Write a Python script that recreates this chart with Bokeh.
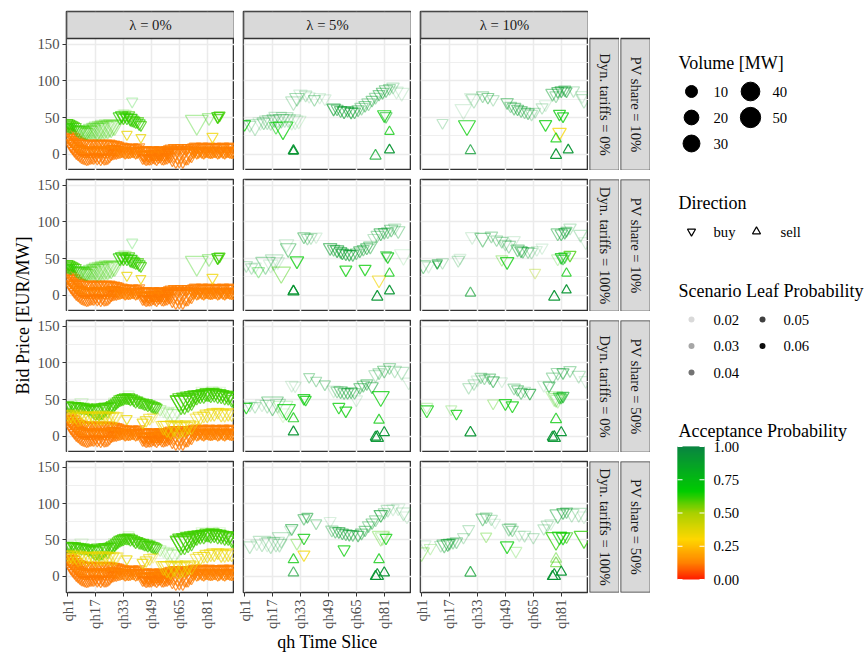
import numpy as np
from bokeh.plotting import figure
from bokeh.layouts import row, column
from bokeh.models import Range1d, Grid, FixedTicker, LinearAxis, ColumnDataSource
from bokeh.transform import linear_cmap
from bokeh.core.properties import value
from bokeh.embed import file_html
from bokeh.resources import INLINE

FONT = "Liberation Serif"

# ---------------- labels / breaks ----------------
lambda_labels = ["λ = 0%", "λ = 5%", "λ = 10%"]
dyn_labels = ["Dyn. tariffs = 0%", "Dyn. tariffs = 100%", "Dyn. tariffs = 0%", "Dyn. tariffs = 100%"]
pv_labels = ["PV share = 10%", "PV share = 10%", "PV share = 50%", "PV share = 50%"]
qh_ticks = [1, 17, 33, 49, 65, 81]
qh_tick_labels = ["qh1", "qh17", "qh33", "qh49", "qh65", "qh81"]
price_ticks = [0, 50, 100, 150]
price_minor = [25, 75, 125]
size_breaks = [10, 20, 30, 40, 50]
prob_breaks = [0.02, 0.03, 0.04, 0.05, 0.06]
acc_breaks = [0.0, 0.25, 0.5, 0.75, 1.0]
acc_break_labels = ["0.00", "0.25", "0.50", "0.75", "1.00"]
direction_labels = ["buy", "sell"]

# ---------------- data: (qh, price, volume MW, leaf prob, acceptance prob[, dir]) ----------------
# dense low-acceptance buy band in the λ = 0% column
ORANGE_BAND = [
    (1,31,2,.05,.12),(1,24,3,.055,.13),
    (2,29,2,.05,.12),(2,22,3,.055,.12),(2,15,1,.05,.11),
    (3,27,2,.05,.12),(3,19,3,.055,.13),(3,11,2,.05,.11),
    (4,25,1,.05,.12),(4,16,3,.055,.12),(4,8,2,.05,.11),
    (5,23,2,.05,.12),(5,14,3,.055,.13),(5,5,2,.05,.11),
    (6,20,2,.05,.12),(6,11,3,.055,.12),(6,2,2,.05,.11),
    (7,18,2,.05,.12),(7,9,3,.055,.13),(7,0,2,.05,.11),
    (8,17,2,.05,.12),(8,7,3,.055,.12),(8,-2,2,.05,.11),
    (9,16,2,.05,.12),(9,6,3,.055,.13),(9,-4,2,.05,.11),
    (10,15,2,.05,.12),(10,5,3,.055,.12),(10,-5,2,.05,.11),
    (11,15,1,.05,.12),(11,4,3,.055,.13),(11,-5,3,.05,.11),
    (12,14,2,.05,.12),(12,4,2,.055,.12),(12,-6,3,.05,.11),
    (13,15,2,.05,.12),(13,5,3,.055,.13),(13,-6,2,.05,.11),
    (14,14,2,.05,.12),(14,4,3,.055,.12),(14,-5,2,.05,.11),
    (15,15,2,.05,.12),(15,5,2,.055,.13),(15,-4,3,.05,.11),
    (16,14,1,.05,.12),(16,4,3,.055,.12),(16,-5,2,.05,.11),
    (17,15,2,.05,.12),(17,6,3,.055,.13),(17,-3,2,.05,.11),
    (18,14,2,.05,.12),(18,5,3,.055,.12),(18,-5,3,.05,.11),
    (19,15,2,.05,.12),(19,4,2,.055,.13),(19,-4,2,.05,.11),
    (20,14,2,.05,.12),(20,5,3,.055,.12),(20,-6,3,.05,.11),
    (21,15,1,.05,.12),(21,6,3,.055,.13),(21,-4,2,.05,.11),
    (22,14,2,.05,.12),(22,4,3,.055,.12),(22,-6,2,.05,.11),
    (23,15,2,.05,.12),(23,5,2,.055,.13),(23,-5,3,.05,.11),
    (24,14,2,.05,.12),(24,4,3,.055,.12),(24,-5,2,.05,.11),
    (25,15,2,.05,.12),(25,6,3,.055,.13),(25,-3,2,.05,.11),
    (26,14,2,.05,.12),(26,7,2,.055,.12),(26,0,2,.05,.11),
    (27,13,2,.05,.12),(27,6,3,.055,.13),(27,1,2,.05,.11),
    (28,14,1,.05,.12),(28,7,3,.055,.12),(28,2,2,.05,.11),
    (29,13,2,.05,.12),(29,6,3,.055,.13),(29,2,2,.05,.11),
    (30,12,2,.05,.12),(30,6,2,.055,.12),(30,3,2,.05,.11),
    (31,10,2,.05,.12),(31,4,3,.055,.13),
    (32,11,2,.05,.12),(32,5,3,.055,.12),
    (33,10,2,.05,.12),(33,4,2,.055,.13),
    (34,9,2,.05,.12),(34,3,3,.055,.12),
    (35,10,1,.05,.12),(35,4,3,.055,.13),
    (36,8,2,.05,.12),(36,3,2,.055,.12),
    (37,9,2,.05,.12),(37,4,3,.055,.13),
    (38,10,2,.05,.12),(38,5,3,.055,.12),
    (39,9,2,.05,.12),(39,4,2,.055,.13),
    (40,8,2,.05,.12),(40,3,3,.055,.12),
    (41,9,1,.05,.12),(41,4,3,.055,.13),
    (42,10,2,.05,.12),(42,5,2,.055,.12),
    (44,6,2,.05,.12),(44,0,3,.055,.13),(44,-5,2,.05,.11),
    (45,5,2,.05,.12),(45,-1,3,.055,.12),(45,-5,2,.05,.11),
    (46,6,2,.05,.12),(46,0,2,.055,.13),(46,-6,3,.05,.11),
    (47,5,1,.05,.12),(47,-1,3,.055,.12),(47,-6,2,.05,.11),
    (48,4,2,.05,.12),(48,-2,3,.055,.13),(48,-6,2,.05,.11),
    (49,5,2,.05,.12),(49,0,2,.055,.12),(49,-5,3,.05,.11),
    (50,6,2,.05,.12),(50,1,3,.055,.13),(50,-4,2,.05,.11),
    (51,5,2,.05,.12),(51,0,3,.055,.12),(51,-5,2,.05,.11),
    (52,4,1,.05,.12),(52,-1,2,.055,.13),(52,-6,3,.05,.11),
    (53,5,2,.05,.12),(53,1,3,.055,.12),(53,-4,2,.05,.11),
    (54,6,2,.05,.12),(54,2,3,.055,.13),(54,-3,2,.05,.11),
    (55,5,2,.05,.12),(55,0,2,.055,.12),(55,-5,3,.05,.11),
    (56,4,2,.05,.12),(56,-1,3,.055,.13),(56,-6,2,.05,.11),
    (57,5,1,.05,.12),(57,0,3,.055,.12),(57,-5,2,.05,.11),
    (58,6,2,.05,.12),(58,2,2,.055,.13),(58,-4,3,.05,.11),
    (59,7,2,.05,.12),(59,3,3,.055,.12),(59,-3,2,.05,.11),
    (60,2,12,.05,.12),(61,-1,20,.05,.11),(62,3,14,.05,.12),(63,-2,26,.05,.11),
    (64,2,18,.05,.12),(65,-1,28,.05,.11),(66,3,20,.05,.12),(67,-2,26,.05,.11),
    (68,1,18,.05,.12),(69,2,24,.05,.11),(70,0,16,.05,.12),(71,3,12,.05,.11),(72,1,9,.05,.12),
    (60,8,2,.05,.12),(62,9,2,.055,.12),(64,8,2,.05,.12),(66,9,2,.055,.12),
    (68,8,2,.05,.12),(70,9,2,.055,.12),(72,8,2,.05,.12),
    (73,10,2,.05,.12),(73,4,3,.055,.13),(74,11,2,.05,.12),(74,5,2,.055,.12),
    (75,10,2,.05,.12),(75,3,3,.055,.13),(76,9,1,.05,.12),(76,4,3,.055,.12),
    (77,10,2,.05,.12),(77,5,2,.055,.13),(78,11,2,.05,.12),(78,4,3,.055,.12),
    (79,10,2,.05,.12),(79,3,3,.055,.13),(80,9,2,.05,.12),(80,4,2,.055,.12),
    (81,10,1,.05,.12),(81,5,3,.055,.13),(82,11,2,.05,.12),(82,4,3,.055,.12),
    (83,10,2,.05,.12),(83,3,2,.055,.13),(84,9,2,.05,.12),(84,4,3,.055,.12),
    (85,10,2,.05,.12),(85,5,3,.055,.13),(86,11,1,.05,.12),(86,4,2,.055,.12),
    (87,10,2,.05,.12),(87,3,3,.055,.13),(88,9,2,.05,.12),(88,4,3,.055,.12),
    (89,10,2,.05,.12),(89,5,2,.055,.13),(90,11,2,.05,.12),(90,4,3,.055,.12),
    (91,10,1,.05,.12),(91,3,3,.055,.13),(92,9,2,.05,.12),(92,4,2,.055,.12),
    (93,10,2,.05,.12),(93,5,3,.055,.13),(94,11,2,.05,.12),(94,4,3,.055,.12),
    (95,10,2,.05,.12),(95,3,2,.055,.13),(96,9,2,.05,.12),(96,4,3,.055,.12),
]

# λ = 0%, PV share 10% (both tariff rows)
C1_PV10 = [
    (1,43,2,.055,.6,'b'),(2,42,2,.055,.6,'b'),(3,41,1.5,.05,.6,'b'),(4,40,1.5,.05,.6,'b'),
    (5,39,1,.05,.6,'b'),(6,38,1,.05,.6,'b'),(1,38,1.5,.05,.6,'b'),(2,37,1.5,.045,.62,'b'),(3,36,1,.045,.62,'b'),
    (6,34,3,.035,.6,'b'),(7,33,4,.035,.62,'b'),(8,32,5,.035,.6,'b'),(9,33,6,.035,.62,'b'),(10,32,7,.03,.6,'b'),
    (11,31,5,.035,.62,'b'),(12,30,4,.04,.6,'b'),(13,33,9,.03,.62,'b'),(14,32,7,.035,.6,'b'),(15,34,12,.03,.62,'b'),
    (16,33,9,.03,.6,'b'),(17,35,14,.03,.62,'b'),(18,34,16,.03,.6,'b'),(19,36,19,.03,.6,'b'),(20,35,16,.03,.62,'b'),
    (21,37,21,.025,.6,'b'),(22,36,19,.03,.6,'b'),(23,38,23,.025,.62,'b'),(24,37,21,.03,.6,'b'),(25,39,21,.025,.6,'b'),
    (26,38,19,.03,.62,'b'),(27,40,16,.025,.6,'b'),(28,39,12,.03,.6,'b'),
    (31,51,5,.05,.62,'b'),(32,53,3.5,.055,.62,'b'),(33,50,3,.05,.6,'b'),(34,52,2,.045,.6,'b'),(35,50,3.5,.05,.62,'b'),
    (36,53,3,.05,.6,'b'),(37,49,5,.055,.62,'b'),(38,47,3.5,.05,.6,'b'),(39,46,3,.05,.62,'b'),(40,44,2,.05,.6,'b'),
    (41,45,3.5,.045,.6,'b'),(42,42,3,.05,.62,'b'),(43,40,2,.05,.6,'b'),(34,55,3,.025,.6,'b'),(33,56,2,.02,.6,'b'),
    (38,72,2,.025,.65,'b'),
    (35,27,1.4,.05,.35,'b'),(43,23,1,.05,.35,'b'),
    (75,44,30,.03,.62,'b'),(82,50,5,.03,.62,'b'),(87,52,3,.05,.62,'b'),(88,53,2,.055,.6,'b'),(87,50,1.4,.05,.6,'b'),
    (84,24,2,.05,.33,'b'),
]

# λ = 0%, PV share 50% (both tariff rows)
C1_PV50 = [
    (1,42,3,.05,.6,'b'),(2,42,2,.055,.6,'b'),(3,41,3,.05,.6,'b'),(4,42,2,.05,.6,'b'),(5,41,3.5,.055,.6,'b'),
    (6,40,3,.05,.6,'b'),(7,41,2,.05,.6,'b'),(8,40,3,.05,.6,'b'),(9,39,3.5,.05,.6,'b'),(10,40,3,.045,.6,'b'),
    (11,38,2,.05,.6,'b'),(12,39,3,.05,.6,'b'),(13,37,3.5,.05,.6,'b'),(14,38,3,.045,.6,'b'),
    (5,44,3,.02,.6,'b'),(9,46,5,.02,.62,'b'),
    (15,36,5,.04,.6,'b'),(16,35,7,.045,.6,'b'),(17,34,9,.05,.6,'b'),(18,36,12,.05,.6,'b'),(19,35,14,.045,.6,'b'),
    (20,37,16,.05,.6,'b'),(21,36,12,.05,.6,'b'),(22,38,9,.045,.6,'b'),(23,39,7,.05,.6,'b'),(24,38,12,.04,.6,'b'),
    (25,40,5,.045,.6,'b'),(26,41,3.5,.05,.6,'b'),(27,42,5,.05,.6,'b'),(28,44,3.5,.05,.6,'b'),(29,46,3,.05,.6,'b'),
    (30,48,3,.05,.6,'b'),(31,50,3.5,.05,.6,'b'),(32,51,3,.055,.6,'b'),(33,52,3.5,.05,.6,'b'),(34,53,3,.05,.6,'b'),
    (35,52,2,.05,.6,'b'),(36,53,3.5,.055,.6,'b'),(37,51,3,.05,.6,'b'),(38,52,2,.05,.6,'b'),(39,50,3,.05,.6,'b'),
    (40,48,3.5,.05,.6,'b'),(41,49,2,.05,.6,'b'),(42,47,3,.05,.6,'b'),(43,46,2,.05,.6,'b'),
    (44,46,3,.05,.6,'b'),(45,44,2,.05,.6,'b'),(46,45,3.5,.05,.6,'b'),(47,43,3,.05,.6,'b'),(48,44,2,.05,.6,'b'),
    (49,42,3,.05,.6,'b'),(50,41,3.5,.05,.6,'b'),(51,40,3,.05,.6,'b'),(52,39,2,.05,.6,'b'),
    (36,57,2,.02,.6,'b'),(28,47,3.5,.02,.6,'b'),
    (54,37,3,.025,.6,'b'),(56,35,3.5,.02,.62,'b'),(58,33,5,.025,.6,'b'),(60,31,7,.02,.6,'b'),(62,30,9,.025,.62,'b'),
    (64,34,5,.02,.6,'b'),
    (65,48,16,.05,.6,'b'),(66,46,23,.05,.6,'b'),(67,50,21,.055,.6,'b'),(68,47,26,.05,.6,'b'),(69,51,19,.05,.6,'b'),
    (70,49,23,.05,.6,'b'),(71,53,16,.05,.6,'b'),(72,51,21,.05,.6,'b'),(73,54,14,.05,.6,'b'),
    (74,56,7,.05,.6,'b'),(75,55,9,.05,.6,'b'),(76,57,5,.05,.6,'b'),(77,56,7,.05,.6,'b'),(78,58,3.5,.05,.6,'b'),
    (79,57,9,.05,.6,'b'),(80,58,5,.05,.6,'b'),(81,59,7,.05,.6,'b'),(82,57,3.5,.05,.6,'b'),(83,58,9,.05,.6,'b'),
    (84,60,5,.05,.6,'b'),(85,58,7,.05,.6,'b'),(86,59,3.5,.05,.6,'b'),(87,57,9,.05,.6,'b'),(88,58,5,.05,.6,'b'),
    (89,56,7,.05,.6,'b'),(90,57,3.5,.05,.6,'b'),(91,55,9,.05,.6,'b'),(92,56,5,.05,.6,'b'),(93,54,7,.05,.6,'b'),
    (94,55,3.5,.05,.6,'b'),(95,52,9,.05,.6,'b'),(96,50,5,.05,.6,'b'),
    (78,62,3,.02,.6,'b'),(84,63,2,.02,.6,'b'),(88,62,3,.02,.6,'b'),
    (1,30,3,.04,.34,'b'),(2,27,3.5,.035,.33,'b'),(3,29,5,.04,.34,'b'),(4,26,3.5,.035,.33,'b'),(5,30,7,.03,.35,'b'),
    (6,27,5,.035,.34,'b'),(7,25,9,.03,.34,'b'),(8,29,5,.04,.33,'b'),(9,26,7,.035,.35,'b'),(10,28,3.5,.03,.34,'b'),
    (11,27,6,.035,.34,'b'),(12,25,9,.03,.33,'b'),(13,28,5,.035,.34,'b'),(14,26,7,.03,.35,'b'),(15,28,3.5,.035,.34,'b'),
    (16,27,6,.03,.34,'b'),(17,25,9,.035,.33,'b'),(18,28,5,.035,.34,'b'),(19,26,7,.03,.35,'b'),(20,28,9,.035,.34,'b'),
    (21,26,6,.035,.34,'b'),(22,27,8,.03,.33,'b'),(23,28,5,.035,.34,'b'),(24,26,7,.03,.35,'b'),(25,27,5,.035,.34,'b'),
    (26,25,7,.03,.34,'b'),(27,28,3.5,.035,.34,'b'),(28,26,6,.03,.35,'b'),(29,27,5,.035,.34,'b'),
    (35,24,1.4,.05,.35,'b'),(44,19,2,.05,.35,'b'),(46,22,3,.045,.35,'b'),(48,25,3.5,.04,.34,'b'),(50,27,2,.03,.34,'b'),
    (56,14,9,.04,.34,'b'),(58,13,16,.045,.35,'b'),(60,12,21,.04,.34,'b'),(62,14,14,.045,.35,'b'),(64,11,19,.04,.34,'b'),
    (66,13,16,.045,.35,'b'),(68,12,12,.04,.34,'b'),(70,15,9,.045,.35,'b'),(72,14,7,.04,.34,'b'),
    (75,25,5,.04,.34,'b'),(77,27,7,.045,.35,'b'),(79,28,3.5,.04,.34,'b'),(81,30,7,.045,.35,'b'),(83,31,5,.04,.34,'b'),
    (85,32,7,.045,.35,'b'),(87,33,3.5,.04,.34,'b'),(89,31,7,.045,.35,'b'),(91,30,5,.04,.34,'b'),(93,32,7,.045,.35,'b'),
    (95,31,5,.04,.34,'b'),
]

# λ = 5%
C2_R1 = [
    (1,41,3,.05,.66,'b'),(4,40,3.5,.025,.88,'b'),(7,40,16,.025,.88,'b'),(10,44,7,.02,.88,'b'),(12,44,5,.03,.88,'b'),
    (14,46,9,.025,.88,'b'),(16,46,12,.025,.88,'b'),(18,48,7,.03,.88,'b'),(20,50,14,.025,.88,'b'),(22,48,9,.03,.88,'b'),
    (24,50,12,.025,.88,'b'),(26,48,7,.025,.88,'b'),(28,47,14,.02,.88,'b'),(30,46,9,.02,.88,'b'),(32,46,7,.02,.75,'b'),
    (23,36,21,.05,.66,'b'),(19,38,5,.04,.66,'b'),
    (29,72,9,.025,.88,'b'),(31,77,7,.03,.88,'b'),(33,82,5,.02,.88,'b'),(36,81,3.5,.025,.88,'b'),(38,79,3,.02,.88,'b'),
    (41,75,3,.03,.88,'b'),(44,78,3,.02,.88,'b'),(47,76,3.5,.02,.88,'b'),
    (52,63,5,.045,.88,'b'),(54,62,3,.04,.88,'b'),(56,60,3.5,.04,.88,'b'),(58,59,5,.045,.88,'b'),(60,60,3,.04,.88,'b'),
    (62,58,3.5,.045,.88,'b'),(64,58,3,.04,.88,'b'),(66,61,3.5,.035,.88,'b'),(68,64,5,.03,.88,'b'),(70,67,3.5,.035,.88,'b'),
    (72,70,5,.03,.88,'b'),(74,74,3,.035,.88,'b'),(76,78,3.5,.03,.88,'b'),(78,82,3,.035,.88,'b'),(80,85,3.5,.04,.88,'b'),
    (82,88,5,.035,.88,'b'),(84,90,3,.03,.88,'b'),(86,92,3.5,.025,.88,'b'),(88,86,5,.02,.88,'b'),(91,84,7,.02,.88,'b'),
    (81,54,5,.05,.66,'b'),(82,52,3,.04,.75,'b'),
    (29,5,1.4,.06,.92,'s'),(29,4,0.7,.06,.92,'s'),(76,-2,2,.05,.85,'s'),(84,31,0.7,.05,.68,'s'),(84,6,1,.06,.92,'s'),
]
C2_R2 = [
    (2,41,3.5,.025,.88,'b'),(5,38,3,.025,.88,'b'),(7,39,3.5,.02,.88,'b'),(9,33,3,.03,.66,'b'),(13,44,19,.03,.88,'b'),
    (16,42,7,.02,.88,'b'),(18,48,14,.025,.88,'b'),(20,46,5,.02,.88,'b'),(22,31,16,.035,.6,'b'),(26,64,9,.035,.88,'b'),
    (25,70,7,.02,.88,'b'),(31,47,5,.05,.66,'b'),
    (35,80,3.5,.035,.88,'b'),(37,78,3,.03,.88,'b'),(39,79,3.5,.025,.88,'b'),(42,80,3,.02,.88,'b'),
    (50,65,5,.04,.88,'b'),(52,63,3.5,.035,.88,'b'),(54,62,5,.045,.88,'b'),(56,60,3.5,.04,.88,'b'),(57,58,3,.045,.88,'b'),
    (59,57,3.5,.04,.88,'b'),(61,56,3,.045,.88,'b'),(63,56,3.5,.04,.88,'b'),(65,58,3,.035,.88,'b'),(67,61,3.5,.04,.88,'b'),
    (69,63,3,.035,.88,'b'),(71,65,3.5,.04,.88,'b'),(73,67,5,.035,.88,'b'),(75,78,3,.025,.88,'b'),(77,82,3.5,.03,.88,'b'),
    (79,85,5,.04,.88,'b'),(81,86,3,.035,.88,'b'),(83,87,3.5,.03,.88,'b'),(85,90,5,.035,.88,'b'),(87,92,3.5,.025,.88,'b'),
    (89,88,5,.03,.88,'b'),(92,55,14,.02,.8,'b'),
    (59,35,3,.05,.66,'b'),(70,36,3,.05,.66,'b'),(78,21,5,.045,.33,'b'),(83,53,3,.05,.7,'b'),(82,55,2,.035,.75,'b'),
    (29,5,2,.06,.92,'s'),(29,6,1,.06,.92,'s'),(77,-2,2,.06,.92,'s'),(84,6,1,.06,.92,'s'),(84,30,0.7,.05,.68,'s'),
]
C2_R3 = [
    (2,40,3,.05,.66,'b'),(4,42,2,.025,.88,'b'),(7,41,3,.025,.88,'b'),(11,44,5,.02,.88,'b'),(14,43,7,.025,.88,'b'),
    (17,45,26,.035,.88,'b'),(20,44,9,.025,.88,'b'),(23,40,19,.025,.65,'b'),(25,36,14,.05,.66,'b'),(23,31,9,.02,.6,'b'),
    (35,52,3,.05,.68,'b'),(36,50,2,.05,.66,'b'),
    (28,70,3.5,.02,.88,'b'),(30,69,3,.02,.88,'b'),(38,81,2,.03,.88,'b'),(42,76,2,.03,.88,'b'),(47,71,2,.03,.88,'b'),
    (52,63,5,.02,.88,'b'),(54,62,3.5,.03,.88,'b'),(56,62,5,.035,.88,'b'),(58,60,3.5,.035,.88,'b'),(60,60,3,.04,.88,'b'),
    (62,61,3.5,.035,.88,'b'),(64,60,3,.035,.88,'b'),(65,50,3.5,.02,.88,'b'),(67,67,3,.035,.88,'b'),(69,70,3.5,.035,.88,'b'),
    (71,72,3,.035,.88,'b'),(74,68,3.5,.04,.88,'b'),
    (76,84,5,.025,.88,'b'),(78,87,3.5,.03,.88,'b'),(81,90,5,.035,.88,'b'),(84,94,3.5,.03,.88,'b'),(87,90,5,.025,.88,'b'),
    (91,88,7,.025,.88,'b'),(95,74,5,.02,.88,'b'),
    (79,54,12,.05,.66,'b'),(55,40,3,.05,.66,'b'),(59,35,3,.05,.66,'b'),
    (29,24,1.4,.05,.68,'s'),(29,6,1.4,.06,.92,'s'),(78,22,1.4,.05,.68,'s'),(77,-2,3.5,.06,.92,'s'),(76,-1,1.4,.06,.92,'s'),
    (81,5,1.4,.06,.92,'s'),
]
C2_R4 = [
    (4,42,5,.025,.88,'b'),(8,45,3,.02,.88,'b'),(11,48,14,.025,.88,'b'),(14,46,9,.02,.88,'b'),(16,46,16,.025,.88,'b'),
    (19,47,12,.025,.88,'b'),(21,45,7,.025,.88,'b'),(22,53,14,.025,.88,'b'),(28,66,3.5,.04,.88,'b'),(27,64,2,.02,.88,'b'),
    (31,46,3.5,.03,.6,'b'),
    (35,53,3,.05,.68,'b'),(35,30,3,.05,.33,'b'),
    (35,80,3,.035,.88,'b'),(37,82,2,.04,.88,'b'),(42,73,2,.03,.88,'b'),(50,76,3,.02,.88,'b'),
    (51,64,3.5,.03,.88,'b'),(53,62,3,.035,.88,'b'),(55,62,3.5,.04,.88,'b'),(57,60,3,.04,.88,'b'),(59,59,3.5,.035,.88,'b'),
    (61,58,3,.04,.88,'b'),(63,58,3.5,.035,.88,'b'),(66,57,3,.04,.88,'b'),(68,60,3.5,.035,.88,'b'),(70,64,3,.035,.88,'b'),
    (72,70,3.5,.03,.88,'b'),(74,74,3,.035,.88,'b'),(76,78,3.5,.03,.88,'b'),(79,85,5,.045,.88,'b'),(81,88,3,.03,.88,'b'),
    (83,92,5,.025,.88,'b'),(86,93,3.5,.02,.88,'b'),(89,94,5,.02,.88,'b'),(92,88,7,.025,.88,'b'),(94,83,5,.02,.88,'b'),
    (58,37,3,.05,.66,'b'),(79,55,12,.03,.6,'b'),(80,54,7,.025,.62,'b'),(82,53,3,.05,.66,'b'),
    (29,23,1.4,.05,.68,'s'),(29,5,1.4,.045,.88,'s'),(78,23,1.4,.05,.68,'s'),(77,1,3.5,.06,.92,'s'),(76,0,1.4,.06,.92,'s'),
    (81,5,1.4,.06,.92,'s'),
]

# λ = 10%
C3_R1 = [
    (13,43,2,.025,.88,'b'),(27,39,12,.05,.66,'b'),(25,61,12,.02,.88,'b'),(31,75,9,.025,.88,'b'),(29,78,3,.02,.88,'b'),
    (36,80,3.5,.03,.88,'b'),(39,78,3,.035,.88,'b'),(42,75,3,.025,.88,'b'),
    (50,71,3.5,.035,.88,'b'),(52,66,3,.03,.88,'b'),(54,64,5,.035,.88,'b'),(56,62,3,.04,.88,'b'),(58,60,3.5,.035,.88,'b'),
    (60,58,3,.03,.88,'b'),(62,57,3.5,.035,.88,'b'),(64,55,3,.025,.88,'b'),(66,58,2,.025,.88,'b'),(70,64,3,.025,.88,'b'),
    (72,68,3.5,.02,.88,'b'),
    (76,83,5,.035,.88,'b'),(78,80,3.5,.03,.88,'b'),(79,86,3,.04,.88,'b'),(81,87,3.5,.04,.88,'b'),(83,88,3,.035,.88,'b'),
    (84,86,2,.04,.88,'b'),(88,87,3,.025,.88,'b'),(94,75,9,.025,.88,'b'),(93,80,5,.02,.88,'b'),
    (72,41,3.5,.05,.66,'b'),(80,55,3,.05,.68,'b'),(82,52,2,.05,.66,'b'),(80,30,5,.05,.32,'b'),
    (29,5,1.4,.05,.9,'s'),(78,21,1.4,.05,.66,'s'),(78,-1,2,.06,.92,'s'),(85,6,1,.06,.92,'s'),
]
C3_R2 = [
    (2,41,7,.035,.88,'b'),(5,40,3.5,.02,.88,'b'),(10,44,1.4,.04,.88,'b'),(10,43,0.4,.04,.88,'b'),(13,45,3,.025,.88,'b'),
    (22,48,3.5,.025,.88,'b'),(23,51,3,.02,.88,'b'),
    (30,80,5,.02,.88,'b'),(36,78,9,.035,.88,'b'),(41,81,3.5,.03,.88,'b'),(44,76,3,.03,.88,'b'),(47,74,3.5,.03,.88,'b'),
    (49,70,3,.025,.88,'b'),(51,68,5,.03,.88,'b'),(54,75,3.5,.02,.88,'b'),(56,63,5,.035,.88,'b'),(58,61,3.5,.04,.88,'b'),
    (59,60,3,.035,.88,'b'),(62,60,3.5,.03,.88,'b'),(64,59,3,.025,.88,'b'),(67,62,2,.02,.88,'b'),(70,65,3,.02,.88,'b'),
    (47,49,3,.03,.6,'b'),(50,46,5,.05,.66,'b'),(66,31,2,.03,.5,'b'),
    (79,85,5,.035,.88,'b'),(81,84,3.5,.04,.88,'b'),(83,86,3,.04,.88,'b'),(84,88,2,.035,.88,'b'),(86,92,3.5,.025,.88,'b'),
    (92,83,5,.025,.88,'b'),(95,73,5,.02,.88,'b'),
    (79,50,3.5,.025,.62,'b'),(81,52,3,.05,.7,'b'),(82,50,2,.04,.8,'b'),(83,53,3,.04,.66,'b'),(86,55,3,.05,.6,'b'),
    (29,3,1.4,.045,.88,'s'),(77,-2,2,.06,.92,'s'),(84,7,0.7,.06,.92,'s'),(84,30,0.7,.05,.68,'s'),
]
C3_R3 = [
    (4,36,5,.05,.66,'b'),(4,40,3,.025,.62,'b'),(18,37,2,.025,.62,'b'),(21,31,2,.05,.66,'b'),
    (28,67,3,.025,.88,'b'),(31,72,3,.025,.88,'b'),(33,77,3.5,.02,.88,'b'),(35,81,3,.03,.88,'b'),(37,79,2,.03,.88,'b'),
    (40,80,3,.035,.88,'b'),(42,76,3.5,.04,.88,'b'),(47,75,2,.02,.88,'b'),
    (54,66,3.5,.03,.88,'b'),(56,64,3,.035,.88,'b'),(58,60,3.5,.035,.88,'b'),(60,62,3,.025,.88,'b'),(63,59,3,.045,.88,'b'),
    (71,70,3.5,.02,.88,'b'),(74,69,3,.04,.88,'b'),(76,81,3.5,.03,.88,'b'),(79,87,5,.03,.88,'b'),(82,87,3,.04,.88,'b'),
    (86,90,3.5,.03,.88,'b'),(91,83,5,.025,.88,'b'),(95,76,5,.02,.88,'b'),
    (42,45,2,.03,.6,'b'),(49,45,3.5,.05,.66,'b'),(53,42,3.5,.05,.66,'b'),
    (77,54,12,.025,.62,'b'),(78,52,9,.03,.62,'b'),(79,50,7,.025,.62,'b'),(80,54,3.5,.04,.75,'b'),(82,55,3,.045,.8,'b'),
    (81,53,2,.04,.75,'b'),
    (29,5,2,.06,.92,'s'),(78,23,2,.05,.68,'s'),(77,-2,3.5,.06,.92,'s'),(76,-1,1.4,.06,.92,'s'),(81,5,1.4,.06,.92,'s'),
]
C3_R4 = [
    (1,33,9,.03,.6,'b'),(6,39,3,.025,.62,'b'),(3,44,3,.02,.88,'b'),
    (12,43,3.5,.025,.88,'b'),(14,44,7,.035,.88,'b'),(16,45,5,.04,.88,'b'),(17,46,3.5,.035,.88,'b'),(19,47,3,.03,.88,'b'),
    (21,48,3.5,.03,.88,'b'),(25,54,3,.025,.88,'b'),(28,65,3,.025,.88,'b'),
    (36,80,5,.035,.88,'b'),(38,82,3,.03,.88,'b'),(41,79,3,.025,.88,'b'),(43,74,2,.02,.88,'b'),(38,55,2,.03,.6,'b'),
    (51,66,5,.03,.88,'b'),(52,67,3.5,.025,.88,'b'),(53,64,3,.03,.88,'b'),(57,57,3,.02,.88,'b'),(60,57,3.5,.025,.88,'b'),
    (65,54,3,.025,.88,'b'),(71,66,3,.025,.88,'b'),(73,71,3.5,.025,.88,'b'),(75,73,3,.02,.88,'b'),(79,85,9,.035,.88,'b'),
    (82,88,3.5,.04,.88,'b'),(84,89,3,.035,.88,'b'),(87,86,7,.025,.88,'b'),(91,87,9,.025,.88,'b'),(94,83,5,.02,.88,'b'),
    (50,42,5,.05,.66,'b'),(55,35,3,.025,.62,'b'),
    (78,52,21,.05,.62,'b'),(80,55,7,.045,.66,'b'),(82,54,5,.05,.66,'b'),(84,55,3.5,.045,.62,'b'),(94,54,19,.05,.62,'b'),
    (29,5,2,.05,.88,'s'),(78,24,2,.035,.6,'s'),(78,18,2,.04,.6,'s'),(77,1,3.5,.06,.92,'s'),(76,0,1.4,.06,.92,'s'),
    (81,6,1.4,.06,.92,'s'),
]

ORANGE_ROWS = [t + ('b',) for t in ORANGE_BAND]
PANELS = {
    (0, 0): ORANGE_ROWS + C1_PV10, (1, 0): ORANGE_ROWS + C1_PV10,
    (2, 0): ORANGE_ROWS + C1_PV50, (3, 0): ORANGE_ROWS + C1_PV50,
    (0, 1): C2_R1, (1, 1): C2_R2, (2, 1): C2_R3, (3, 1): C2_R4,
    (0, 2): C3_R1, (1, 2): C3_R2, (2, 2): C3_R3, (3, 2): C3_R4,
}

# ---------------- scales ----------------
ACC_STOPS = [(0.0, (255, 30, 0)), (0.12, (255, 128, 0)), (0.30, (255, 215, 0)),
             (0.50, (168, 208, 0)), (0.66, (0, 204, 0)), (1.0, (10, 132, 66))]


def _acc_hex(a):
    for (a0, c0), (a1, c1) in zip(ACC_STOPS[:-1], ACC_STOPS[1:]):
        if a <= a1 + 1e-9:
            t = (a - a0) / (a1 - a0)
            return "#%02x%02x%02x" % tuple(int(round(c0[k] + (c1[k] - c0[k]) * t)) for k in range(3))
    return "#0a8442"


PALETTE = [_acc_hex(i / 255) for i in range(256)]
P_LO, P_HI = 0.0175, 0.0625


def circle_px(v):
    return 5.3 + 2.12 * np.sqrt(v)


def alpha_of(p):
    return float(min(1.0, max(0.1, 0.1 + 0.9 * (p - P_LO) / (P_HI - P_LO))))


def source_for(rows):
    return ColumnDataSource(dict(
        qh=[r[0] for r in rows],
        price=[r[1] for r in rows],
        size=[1.35 * circle_px(r[2]) for r in rows],
        alpha=[alpha_of(r[3]) for r in rows],
        acc=[r[4] for r in rows],
        marker=["inverted_triangle" if r[5] == 'b' else "triangle" for r in rows],
    ))


# ---------------- layout geometry ----------------
FW, FH, STRIP_H = 168, 132, 27
X_LO, X_HI = 0.4, 96.6
Y_LO, Y_HI = -22, 157.6
TICK_FONT = "14.7px"
GREY20 = "#333333"
STRIP_BG = "#D9D9D9"
BORDER_W = 1.6
YT_W = 34
LEFT_B = 66 - YT_W


def base_fig(w, h, xr, yr, left=0, right=0, top=0, bottom=0):
    p = figure(width=w, height=h, x_range=xr, y_range=yr, x_axis_location=None, y_axis_location=None,
               toolbar_location=None, title=None, output_backend="svg",
               min_border_left=left, min_border_right=right, min_border_top=top, min_border_bottom=bottom)
    p.grid.visible = False
    p.outline_line_color = None
    p.background_fill_color = "white"
    p.border_fill_color = "white"
    return p


def row_borders(r):
    top = 11 if r == 0 else 9
    bottom = 38 if r == 3 else 0
    frame_h = FH + (STRIP_H if r == 0 else 0)
    return top, bottom, frame_h


def panel(r, c):
    left = LEFT_B if c == 0 else 9
    top, bottom, frame_h = row_borders(r)
    y_top = Y_HI + (STRIP_H * (Y_HI - Y_LO) / FH if r == 0 else 0)
    p = base_fig(left + FW, top + frame_h + bottom, Range1d(X_LO, X_HI), Range1d(Y_LO, y_top),
                 left=left, top=top, bottom=bottom)
    p.outline_line_color = GREY20
    p.outline_line_width = BORDER_W
    p.add_layout(Grid(dimension=0, ticker=FixedTicker(ticks=qh_ticks), grid_line_color="#EBEBEB", grid_line_width=1.5))
    p.add_layout(Grid(dimension=1, ticker=FixedTicker(ticks=price_ticks, minor_ticks=price_minor),
                      grid_line_color="#EBEBEB", grid_line_width=1.5,
                      minor_grid_line_color="#EBEBEB", minor_grid_line_width=0.8))
    if c == 0:
        p.add_layout(LinearAxis(ticker=FixedTicker(ticks=price_ticks)), "left")
    if r == 3:
        p.add_layout(LinearAxis(ticker=FixedTicker(ticks=qh_ticks),
                                major_label_overrides=dict(zip(qh_ticks, qh_tick_labels)),
                                major_label_orientation=np.pi / 2), "below")
    for ax in p.axis:
        ax.axis_line_color = None
        ax.major_tick_line_color = GREY20
        ax.major_tick_in = 0
        ax.major_tick_out = 4
        ax.minor_tick_line_color = None
        ax.major_label_text_font = FONT
        ax.major_label_text_font_size = TICK_FONT
        ax.major_label_text_color = "#4D4D4D"
        ax.major_label_standoff = 3
    src = source_for(PANELS[(r, c)])
    p.scatter(x="qh", y="price", size="size", marker="marker", source=src,
              fill_color=None, line_color=linear_cmap("acc", PALETTE, 0, 1),
              line_alpha="alpha", line_width=1.2)
    if r == 0:
        # facet strip (column label) drawn above the panel area
        p.quad(left=[X_LO], right=[X_HI], bottom=[Y_HI], top=[y_top],
               fill_color=STRIP_BG, line_color=GREY20, line_width=BORDER_W)
        p.text(x=[(X_LO + X_HI) / 2], y=[(Y_HI + y_top) / 2], text=[lambda_labels[c]],
               text_align="center", text_baseline="middle", text_font=value(FONT),
               text_font_size=TICK_FONT, text_color="#1A1A1A")
    return p


def row_strip(text, r):
    top, bottom, frame_h = row_borders(r)
    # strip occupies the panel part (0..1) of the frame; row 0 frame also spans the column-strip height
    y_top = frame_h / FH
    p = base_fig(31, top + frame_h + bottom, Range1d(0, 1), Range1d(0, y_top), left=1, top=top, bottom=bottom)
    p.quad(left=[0], right=[1], bottom=[0], top=[1], fill_color=STRIP_BG, line_color=GREY20, line_width=BORDER_W)
    p.text(x=[0.5], y=[0.5], text=[text], angle=-np.pi / 2,
           text_align="center", text_baseline="middle", text_font=value(FONT),
           text_font_size=TICK_FONT, text_color="#1A1A1A")
    return p


panel_rows = []
for r in range(4):
    panel_rows.append(row(
        panel(r, 0), panel(r, 1), panel(r, 2),
        row_strip(dyn_labels[r], r),
        row_strip(pv_labels[r], r),
    ))

GRID_W = LEFT_B + FW + 2 * (9 + FW) + 62

# x axis title
xt = base_fig(GRID_W, 23, Range1d(YT_W, YT_W + GRID_W), Range1d(0, 23))
xt.text(x=[327], y=[13], text=["qh Time Slice"], text_align="center", text_baseline="middle",
        text_font=value(FONT), text_font_size="18px", text_color="black")

grid_col = column(*panel_rows, xt)

# y axis title
yt = base_fig(YT_W, 654, Range1d(0, YT_W), Range1d(0, 654))
yt.text(x=[22], y=[654 - 315], text=["Bid Price [EUR/MW]"], angle=np.pi / 2, text_align="center",
        text_baseline="middle", text_font=value(FONT), text_font_size="18px", text_color="black")

# ---------------- legend panel ----------------
H = 654
LG_X0 = YT_W + GRID_W
lg = base_fig(868 - LG_X0, H, Range1d(LG_X0, 868), Range1d(0, H))


def Y(yp):
    return H - yp


def ltext(x, yp, s, size="14.7px"):
    lg.text(x=[x], y=[Y(yp)], text=[s], text_align="left", text_baseline="middle",
            text_font=value(FONT), text_font_size=size, text_color="black")


# Volume
ltext(678, 62, "Volume [MW]", "18px")
for i, v in enumerate(size_breaks):
    col, rr = divmod(i, 3)
    cx, cy = 691 + 59 * col, 91 + 26 * rr
    lg.scatter(x=[cx], y=[Y(cy)], size=circle_px(v), marker="circle", fill_color="black", line_color="black")
    ltext(713 + 59 * col, cy, str(v))

# Direction
ltext(678, 202, "Direction", "18px")
lg.scatter(x=[691], y=[Y(231)], size=8, marker="inverted_triangle", fill_color=None, line_color="black", line_width=1.2)
ltext(713, 231, direction_labels[0])
lg.scatter(x=[756], y=[Y(231)], size=8, marker="triangle", fill_color=None, line_color="black", line_width=1.2)
ltext(780, 231, direction_labels[1])

# Scenario leaf probability
ltext(678, 290, "Scenario Leaf Probability", "18px")
for i, pb in enumerate(prob_breaks):
    col, rr = divmod(i, 3)
    cx, cy = 691 + 71 * col, 319 + 26.5 * rr
    lg.scatter(x=[cx], y=[Y(cy)], size=6, marker="circle", fill_color="black", line_color=None,
               fill_alpha=alpha_of(pb))
    ltext(713 + 70 * col, cy, "%.2f" % pb)

# Acceptance probability colour bar
ltext(678, 430, "Acceptance Probability", "18px")
cb_top, cb_bot, cb_l, cb_r = 446, 579, 677, 704
n = 133
edges = np.linspace(Y(cb_bot), Y(cb_top), n + 1)
mids = (np.arange(n) + 0.5) / n
cols = [PALETTE[int(m * 255)] for m in mids]
tops = np.minimum(edges[1:] + 0.7, Y(cb_top))
lg.quad(left=[cb_l] * n, right=[cb_r] * n, bottom=list(edges[:-1]), top=list(tops),
        fill_color=cols, line_color=None)
for a, lab in zip(acc_breaks, acc_break_labels):
    yp = cb_bot - a * (cb_bot - cb_top)
    lg.segment(x0=[cb_l], x1=[cb_l + 5], y0=[Y(yp)], y1=[Y(yp)], line_color="white", line_width=1.2)
    lg.segment(x0=[cb_r - 5], x1=[cb_r], y0=[Y(yp)], y1=[Y(yp)], line_color="white", line_width=1.2)
    ltext(713, yp, lab)

layout = row(yt, grid_col, lg)

with open("out.html", "w") as f:
    f.write(file_html(layout, INLINE))
